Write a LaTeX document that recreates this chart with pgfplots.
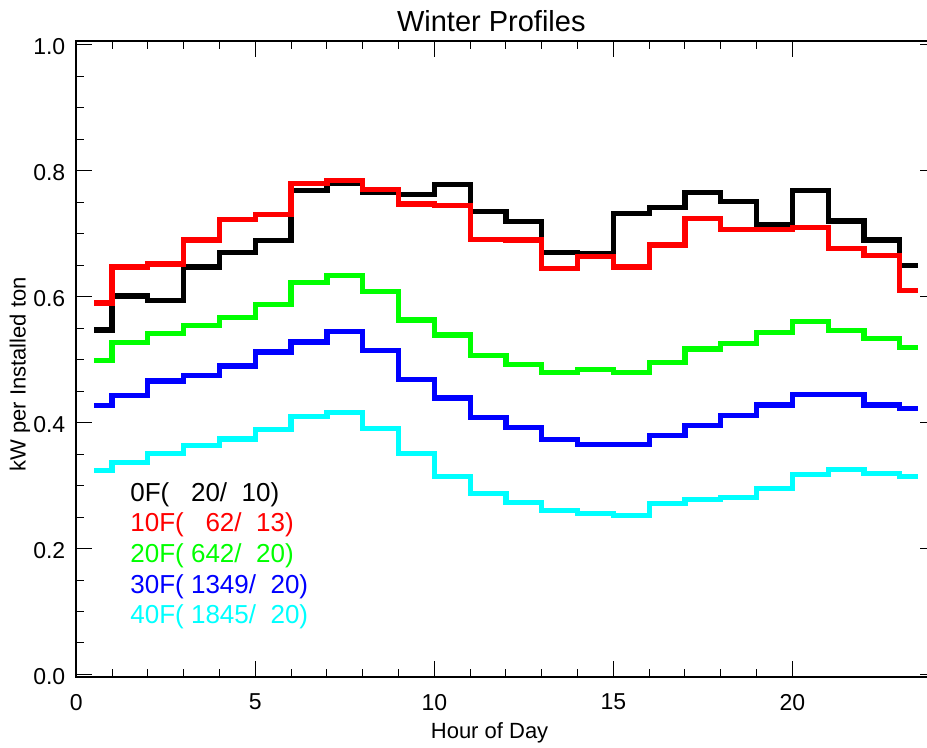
\documentclass[border=0pt]{standalone}
\usepackage{fontspec}
\setmainfont{Liberation Sans}
\usepackage{pgfplots}
\usepackage{pgfplotstable}
\pgfplotsset{compat=1.18}
\definecolor{cgreen}{RGB}{0,255,0}
\definecolor{cblue}{RGB}{0,0,255}
\definecolor{ccyan}{RGB}{0,255,255}
\definecolor{cred}{RGB}{255,0,0}
\pgfplotstableread{
h    k     r     g     b     c
0.5  0.547 0.590 0.499 0.427 0.324
1.5  0.601 0.647 0.527 0.443 0.337
2.5  0.594 0.652 0.541 0.466 0.351
3.5  0.647 0.690 0.554 0.475 0.364
4.5  0.670 0.723 0.567 0.490 0.374
5.5  0.689 0.731 0.588 0.512 0.389
6.5  0.769 0.780 0.623 0.528 0.410
7.5  0.780 0.784 0.633 0.545 0.416
8.5  0.765 0.770 0.608 0.515 0.391
9.5  0.762 0.747 0.563 0.468 0.351
10.5 0.778 0.745 0.539 0.439 0.315
11.5 0.735 0.691 0.507 0.408 0.288
12.5 0.719 0.690 0.492 0.392 0.273
13.5 0.670 0.645 0.480 0.373 0.261
14.5 0.668 0.664 0.484 0.365 0.256
15.5 0.732 0.647 0.480 0.365 0.253
16.5 0.742 0.682 0.495 0.379 0.271
17.5 0.765 0.724 0.517 0.396 0.278
18.5 0.751 0.706 0.526 0.411 0.281
19.5 0.715 0.706 0.543 0.428 0.295
20.5 0.768 0.710 0.561 0.445 0.317
21.5 0.720 0.676 0.546 0.445 0.325
22.5 0.690 0.665 0.534 0.428 0.319
23.5 0.650 0.610 0.519 0.422 0.315
}\data
\begin{document}
\begin{tikzpicture}
\begin{axis}[
  scale only axis,
  width=429.6pt, height=318pt,
  xmin=0, xmax=24, ymin=-0.004, ymax=1.006,
  xtick={0,5,10,15,20},
  ytick={0,0.2,0.4,0.6,0.8,1.0},
  minor x tick num=4,
  minor y tick num=3,
  tick pos=both,
  tick align=inside,
  major tick length=8pt,
  minor tick length=4pt,
  every tick/.style={black, line width=0.5pt},
  axis line style={line width=0.9pt},
  yticklabel style={/pgf/number format/fixed, /pgf/number format/precision=1, /pgf/number format/fixed zerofill, xshift=-2pt, yshift=-1pt},
  xticklabel style={yshift=-5pt},
  /pgf/number format/assume math mode=true,
  tick label style={font=\fontsize{11.5}{13}\selectfont},
  xlabel={Hour of Day},
  ylabel={kW per Installed ton},
  label style={font=\fontsize{11}{13}\selectfont},
  xlabel style={at={(axis description cs:0.481,-0.088)}, anchor=center},
  ylabel style={at={(axis description cs:-0.0655,0.476)}, anchor=center},
  every axis plot/.append style={const plot mark mid, line width=2.6pt, no marks},
  clip=false,
]
\addplot[black] table[x=h,y=k]{\data};
\addplot[cred] table[x=h,y=r]{\data};
\addplot[cgreen] table[x=h,y=g]{\data};
\addplot[cblue] table[x=h,y=b]{\data};
\addplot[ccyan] table[x=h,y=c]{\data};
\node[anchor=base, font=\fontsize{14.5}{16}\selectfont] at (axis description cs:0.483,1.0146) {Winter Profiles};
\begin{scope}[every node/.style={anchor=west, inner sep=0pt, font=\fontsize{13}{15}\selectfont}]
\node[text=black] at (axis cs:1.5,0.285) {0F(\ \ \ 20/\ \ 10)};
\node[text=cred] at (axis cs:1.5,0.237) {10F(\ \ \ 62/\ \ 13)};
\node[text=cgreen] at (axis cs:1.5,0.189) {20F(\ 642/\ \ 20)};
\node[text=cblue] at (axis cs:1.5,0.140) {30F(\ 1349/\ \ 20)};
\node[text=ccyan] at (axis cs:1.5,0.092) {40F(\ 1845/\ \ 20)};
\end{scope}
\end{axis}
\pgfresetboundingbox
\path[use as bounding box] ([xshift=-38.15pt,yshift=-35.5pt]current axis.south west) rectangle ([xshift=-4.25pt,yshift=20.5pt]current axis.north east);
\end{tikzpicture}
\end{document}
